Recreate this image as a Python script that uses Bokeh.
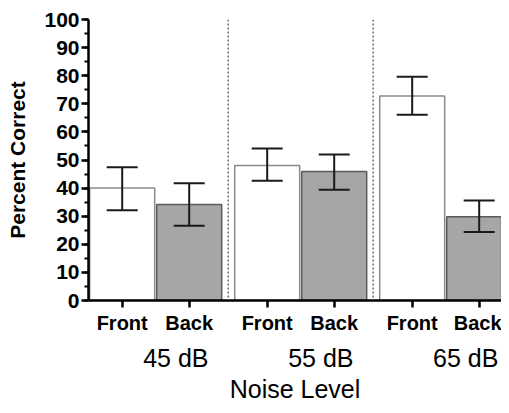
from bokeh.plotting import figure
from bokeh.models import (ColumnDataSource, Range1d, FixedTicker, SingleIntervalTicker,
                          LinearAxis, Whisker, TeeHead, Span)
from bokeh.embed import file_html
from bokeh.resources import INLINE

# ---- data ----
groups = ["45 dB", "55 dB", "65 dB"]
conditions = ["Front", "Back"]
front_mean = [40.0, 48.0, 72.8]
front_lower = [32.1, 42.6, 66.1]
front_upper = [47.4, 54.1, 79.6]
back_mean = [34.2, 45.9, 29.8]
back_lower = [26.6, 39.4, 24.4]
back_upper = [41.7, 52.0, 35.6]

# ---- layout in data units ----
group_gap = 0.164
bar_width = 0.97
group_step = len(conditions) + group_gap

xs, tops, lows, ups, fills, lines, labels = [], [], [], [], [], [], []
for gi, g in enumerate(groups):
    for ci, c in enumerate(conditions):
        xs.append(gi * group_step + ci)
        if c == "Front":
            tops.append(front_mean[gi]); lows.append(front_lower[gi]); ups.append(front_upper[gi])
            fills.append("white"); lines.append("#8a8a8a")
        else:
            tops.append(back_mean[gi]); lows.append(back_lower[gi]); ups.append(back_upper[gi])
            fills.append("#a6a6a6"); lines.append("#5a5a5a")
        labels.append(c)

src = ColumnDataSource(dict(x=xs, top=tops, lower=lows, upper=ups, fill=fills, line=lines))

p = figure(width=501, height=405, output_backend="svg", toolbar_location=None,
           x_range=Range1d(-0.503, 5.661), y_range=Range1d(0, 100),
           min_border_left=88, min_border_right=0, min_border_top=19, min_border_bottom=10)
p.outline_line_color = None
p.xgrid.visible = False
p.ygrid.visible = False
p.background_fill_color = "white"
p.border_fill_color = "white"

p.vbar(x="x", top="top", width=bar_width, bottom=0, source=src,
       fill_color="fill", line_color="line", line_width=1.5)

w = Whisker(base="x", upper="upper", lower="lower", source=src,
            line_color="#1a1a1a", line_width=2, level="overlay",
            upper_head=TeeHead(size=31, line_color="#1a1a1a", line_width=2),
            lower_head=TeeHead(size=31, line_color="#1a1a1a", line_width=2))
p.add_layout(w)

# dotted separators between groups
for gi in range(len(groups) - 1):
    loc = gi * group_step + (len(conditions) - 1) + (1 + group_gap) / 2
    p.add_layout(Span(location=loc, dimension="height", line_color="#555555",
                      line_dash="2 2", line_width=1.3))

# y axis
ya = p.yaxis[0]
ya.ticker = SingleIntervalTicker(interval=10, num_minor_ticks=2)
ya.axis_label = "Percent Correct"
ya.axis_label_text_font = "Liberation Sans"
ya.axis_label_text_font_style = "bold"
ya.axis_label_text_font_size = "21px"
ya.axis_label_text_color = "black"
ya.axis_label_standoff = 12
ya.major_label_text_font = "Liberation Sans"
ya.major_label_text_font_style = "bold"
ya.major_label_text_font_size = "21px"
ya.major_label_text_color = "black"
ya.major_label_standoff = 2
ya.axis_line_width = 2.5
ya.axis_line_color = "black"
ya.major_tick_in = 0
ya.major_tick_out = 7
ya.major_tick_line_width = 2.5
ya.minor_tick_in = 0
ya.minor_tick_out = 4
ya.minor_tick_line_width = 2

# x axis (conditions)
xa = p.xaxis[0]
xa.ticker = FixedTicker(ticks=xs, minor_ticks=[])
xa.major_label_overrides = {x: l for x, l in zip(xs, labels)}
xa.major_label_text_font = "Liberation Sans"
xa.major_label_text_font_style = "bold"
xa.major_label_text_font_size = "20px"
xa.major_label_text_color = "black"
xa.major_label_standoff = 4
xa.axis_line_width = 2.5
xa.axis_line_color = "black"
xa.major_tick_in = 0
xa.major_tick_out = 7
xa.major_tick_line_width = 2.5
xa.minor_tick_line_color = None

# group axis
gcenters = [gi * group_step + 0.8 for gi in range(len(groups))]
ga = LinearAxis(ticker=FixedTicker(ticks=gcenters, minor_ticks=[]),
                major_label_overrides={c: g for c, g in zip(gcenters, groups)})
ga.axis_line_color = None
ga.major_tick_line_color = None
ga.minor_tick_line_color = None
ga.major_tick_out = 0
ga.major_tick_in = 0
ga.major_label_standoff = 7
ga.major_label_text_font = "Liberation Sans"
ga.major_label_text_font_size = "25px"
ga.major_label_text_color = "black"
ga.axis_label = "Noise Level"
ga.axis_label_text_font = "Liberation Sans"
ga.axis_label_text_font_style = "normal"
ga.axis_label_text_font_size = "25px"
ga.axis_label_text_color = "black"
ga.axis_label_standoff = 0
p.add_layout(ga, "below")

open("out.html", "w").write(file_html(p, INLINE))
